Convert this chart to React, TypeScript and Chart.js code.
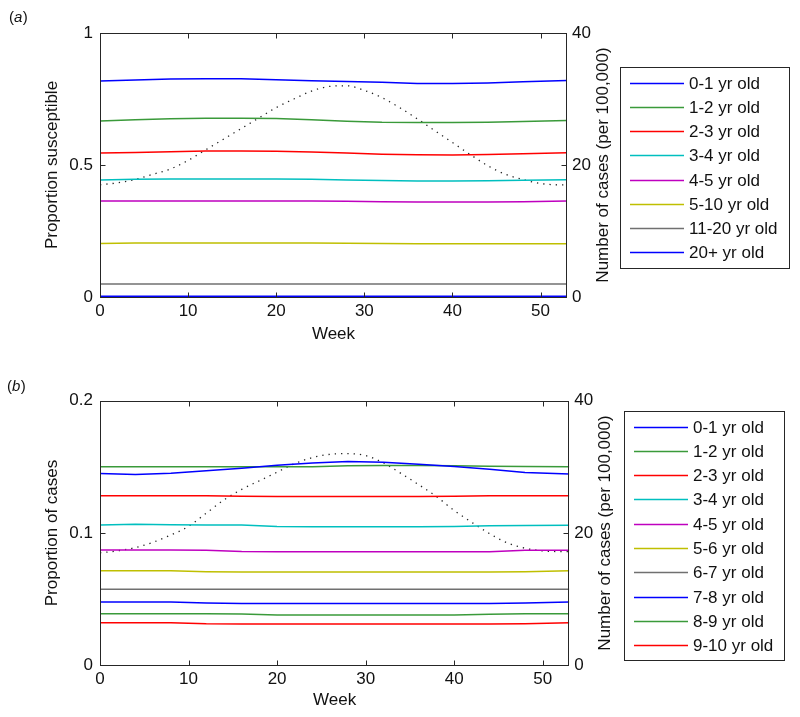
import React, { useEffect, useRef } from "react";
import { Chart, registerables } from "chart.js";

Chart.register(...registerables);

const FONT = '"Liberation Sans", Arial, Helvetica, sans-serif';
const FS = 17;

// ---------- shared axes ----------
const weeks = [0, 4, 8, 12, 16, 20, 24, 28, 32, 36, 40, 44, 48, 53];
const caseWeeks = [0, 2, 4, 6, 8, 10, 12, 14, 16, 18, 20, 22, 24, 26, 28, 30, 32, 34, 36, 38, 40, 42, 44, 46, 48, 50, 52, 53];
const xTicks = [0, 10, 20, 30, 40, 50];
const rightTicks = [0, 20, 40];

// ---------- panel (a): proportion susceptible ----------
const labelsA = ["0-1 yr old", "1-2 yr old", "2-3 yr old", "3-4 yr old", "4-5 yr old", "5-10 yr old", "11-20 yr old", "20+ yr old"];
const colorsA = ["#0000ff", "#3a9a3a", "#ff0000", "#00bfbf", "#bf00bf", "#bfbf00", "#707070", "#0000ff"];
const susA01 = [0.818, 0.822, 0.826, 0.827, 0.827, 0.823, 0.819, 0.816, 0.813, 0.809, 0.809, 0.811, 0.815, 0.82];
const susA12 = [0.667, 0.671, 0.675, 0.677, 0.677, 0.676, 0.671, 0.666, 0.662, 0.661, 0.661, 0.662, 0.665, 0.669];
const susA23 = [0.545, 0.547, 0.55, 0.553, 0.553, 0.552, 0.549, 0.545, 0.541, 0.539, 0.538, 0.54, 0.543, 0.546];
const susA34 = [0.443, 0.446, 0.447, 0.447, 0.447, 0.447, 0.446, 0.443, 0.441, 0.439, 0.439, 0.44, 0.442, 0.444];
const susA45 = [0.364, 0.364, 0.364, 0.364, 0.364, 0.364, 0.364, 0.363, 0.361, 0.36, 0.36, 0.36, 0.361, 0.364];
const susA510 = [0.203, 0.205, 0.205, 0.205, 0.205, 0.205, 0.205, 0.204, 0.203, 0.202, 0.202, 0.202, 0.202, 0.202];
const susA1120 = [0.049, 0.049, 0.049, 0.049, 0.049, 0.049, 0.049, 0.049, 0.049, 0.049, 0.049, 0.049, 0.049, 0.049];
const susA20p = [0.003, 0.003, 0.003, 0.003, 0.003, 0.003, 0.003, 0.003, 0.003, 0.003, 0.003, 0.003, 0.003, 0.003];
const casesA = [17.0, 17.3, 17.8, 18.6, 19.4, 20.7, 22.3, 23.9, 25.5, 27.1, 28.7, 30.0, 31.2, 31.9, 32.0, 31.3, 30.2, 28.7, 27.0, 25.2, 23.4, 21.6, 19.9, 18.6, 17.8, 17.2, 17.0, 17.0];
const leftTicksA = [0, 0.5, 1];

// ---------- panel (b): proportion of cases ----------
const labelsB = ["0-1 yr old", "1-2 yr old", "2-3 yr old", "3-4 yr old", "4-5 yr old", "5-6 yr old", "6-7 yr old", "7-8 yr old", "8-9 yr old", "9-10 yr old"];
const colorsB = ["#0000ff", "#3a9a3a", "#ff0000", "#00bfbf", "#bf00bf", "#bfbf00", "#707070", "#0000ff", "#3a9a3a", "#ff0000"];
const casB01 = [0.145, 0.1442, 0.1452, 0.147, 0.149, 0.1512, 0.153, 0.154, 0.1535, 0.152, 0.1502, 0.1482, 0.1458, 0.1446];
const casB12 = [0.15, 0.15, 0.15, 0.15, 0.15, 0.15, 0.15, 0.1508, 0.151, 0.151, 0.1508, 0.1505, 0.1502, 0.15];
const casB23 = [0.1282, 0.1282, 0.1282, 0.1282, 0.1277, 0.1275, 0.1275, 0.1275, 0.1275, 0.1275, 0.1278, 0.1281, 0.1282, 0.1282];
const casB34 = [0.106, 0.1066, 0.1062, 0.106, 0.106, 0.1049, 0.1048, 0.1048, 0.1048, 0.1048, 0.105, 0.1055, 0.1056, 0.1058];
const casB45 = [0.0871, 0.0871, 0.0871, 0.0869, 0.086, 0.0859, 0.0859, 0.0859, 0.0859, 0.0859, 0.0859, 0.0859, 0.087, 0.087];
const casB56 = [0.0715, 0.0715, 0.0715, 0.0708, 0.0705, 0.0705, 0.0705, 0.0705, 0.0705, 0.0705, 0.0705, 0.0705, 0.0708, 0.0715];
const casB67 = [0.0574, 0.0574, 0.0574, 0.0574, 0.0574, 0.0574, 0.0574, 0.0574, 0.0574, 0.0574, 0.0574, 0.0574, 0.0574, 0.0574];
const casB78 = [0.0478, 0.0478, 0.0478, 0.0471, 0.0468, 0.0468, 0.0468, 0.0468, 0.0468, 0.0468, 0.0468, 0.0468, 0.0471, 0.0478];
const casB89 = [0.039, 0.039, 0.039, 0.039, 0.0388, 0.038, 0.038, 0.038, 0.038, 0.038, 0.038, 0.0386, 0.039, 0.039];
const casB910 = [0.0322, 0.0322, 0.0322, 0.0314, 0.0312, 0.0312, 0.0312, 0.0312, 0.0312, 0.0312, 0.0312, 0.0312, 0.0315, 0.0322];
const casesB = [17.0, 17.3, 17.8, 18.6, 19.7, 21.0, 23.0, 25.0, 26.6, 27.9, 29.2, 30.5, 31.4, 31.9, 32.0, 31.7, 30.6, 29.0, 27.3, 25.5, 23.4, 21.6, 19.9, 18.5, 17.7, 17.3, 17.2, 17.2];
const leftTicksB = [0, 0.1, 0.2];

// ---------- decoration plugin (box, inward ticks, legend, right title, panel label) ----------
function edges(ca: any) {
  return {
    L: Math.round(ca.left) + 0.5,
    R: Math.round(ca.right) - 0.5,
    T: Math.round(ca.top) + 0.5,
    B: Math.round(ca.bottom) + 0.5,
  };
}

const decorPlugin = {
  id: "decor",
  beforeDatasetsDraw(chart: any) {
    const { ctx, chartArea: ca } = chart;
    const { L, R, T, B } = edges(ca);
    ctx.save();
    ctx.strokeStyle = "#262626";
    ctx.lineWidth = 1;
    ctx.strokeRect(L, T, R - L, B - T);
    ctx.restore();
  },
  afterDraw(chart: any, _args: any, o: any) {
    const { ctx, chartArea: ca, scales } = chart;
    const { L, R, T, B } = edges(ca);
    ctx.save();
    ctx.strokeStyle = "#262626";
    ctx.lineWidth = 1;
    ctx.beginPath();
    ctx.moveTo(L, T); ctx.lineTo(R, T); ctx.lineTo(R, B);
    ctx.moveTo(L, T); ctx.lineTo(L, B);
    for (const v of o.xTicks) {
      const px = Math.round(scales.x.getPixelForValue(v)) + 0.5;
      ctx.moveTo(px, T); ctx.lineTo(px, T + 5);
      ctx.moveTo(px, B); ctx.lineTo(px, B - 5);
    }
    for (const v of o.leftTicks) {
      const py = Math.round(scales.y.getPixelForValue(v)) + 0.5;
      ctx.moveTo(L, py); ctx.lineTo(L + 5, py);
    }
    for (const v of o.rightTicks) {
      const py = Math.round(scales.y1.getPixelForValue(v)) + 0.5;
      ctx.moveTo(R, py); ctx.lineTo(R - 5, py);
    }
    ctx.stroke();

    // right axis title, reading bottom to top
    ctx.fillStyle = "#111";
    ctx.font = `${FS}px ${FONT}`;
    ctx.save();
    ctx.translate(o.rightTitleX, (ca.top + ca.bottom) / 2);
    ctx.rotate(-Math.PI / 2);
    ctx.textAlign = "center";
    ctx.textBaseline = "middle";
    ctx.fillText(o.rightTitle, 0, 0);
    ctx.restore();

    // legend
    const lg = o.legend;
    ctx.fillStyle = "#ffffff";
    ctx.fillRect(lg.x, lg.y, lg.w, lg.h);
    ctx.strokeStyle = "#262626";
    ctx.strokeRect(lg.x + 0.5, lg.y + 0.5, lg.w, lg.h);
    ctx.textAlign = "left";
    ctx.textBaseline = "middle";
    ctx.font = `${FS}px ${FONT}`;
    const ds = chart.data.datasets.filter((d: any) => d.yAxisID === "y");
    ds.forEach((d: any, i: number) => {
      const yy = Math.round(lg.firstY + i * lg.step) + 0.5;
      ctx.strokeStyle = d.borderColor;
      ctx.lineWidth = 1.5;
      ctx.beginPath();
      ctx.moveTo(lg.lineX0, yy);
      ctx.lineTo(lg.lineX1, yy);
      ctx.stroke();
      ctx.fillStyle = "#111";
      ctx.fillText(d.label, lg.textX, yy + 1);
    });

    // panel label "(a)" / "(b)"
    ctx.fillStyle = "#111";
    ctx.textBaseline = "middle";
    ctx.font = `15px ${FONT}`;
    let x = o.labelX;
    ctx.fillText("(", x, o.labelY);
    x += ctx.measureText("(").width;
    ctx.font = `italic 15px ${FONT}`;
    ctx.fillText(o.panel, x, o.labelY);
    x += ctx.measureText(o.panel).width + 0.5;
    ctx.font = `15px ${FONT}`;
    ctx.fillText(")", x, o.labelY);
    ctx.restore();
  },
};

type PanelCfg = {
  canvasH: number;
  padTop: number;
  xHeight: number;
  y1Width: number;
  yMax: number;
  leftTicks: number[];
  yTitle: string;
  labels: string[];
  colors: string[];
  series: number[][];
  cases: number[];
  xTickPad: number;
  xTitlePad: number;
  decor: any;
};

function buildConfig(p: PanelCfg): any {
  const datasets: any[] = p.series.map((arr, i) => ({
    label: p.labels[i],
    data: weeks.map((w, j) => ({ x: w, y: arr[j] })),
    borderColor: p.colors[i],
    borderWidth: 1.5,
    pointRadius: 0,
    tension: 0,
    yAxisID: "y",
  }));
  datasets.push({
    label: "cases",
    data: caseWeeks.map((w, j) => ({ x: w, y: p.cases[j] })),
    borderColor: "#222",
    borderWidth: 1.3,
    borderDash: [1.3, 5],
    pointRadius: 0,
    cubicInterpolationMode: "monotone",
    yAxisID: "y1",
  });
  const font = { family: FONT, size: FS };
  return {
    type: "line",
    data: { datasets },
    plugins: [decorPlugin],
    options: {
      animation: false,
      responsive: false,
      maintainAspectRatio: false,
      devicePixelRatio: 1,
      layout: { padding: { top: p.padTop, left: 0, right: 0, bottom: 0 } },
      plugins: {
        legend: { display: false },
        tooltip: { enabled: false },
        decor: p.decor,
      },
      scales: {
        x: {
          type: "linear",
          min: 0,
          max: 53,
          afterBuildTicks: (s: any) => { s.ticks = xTicks.map((v) => ({ value: v })); },
          afterFit: (s: any) => { s.height = p.xHeight; },
          grid: { display: false, drawTicks: false },
          border: { display: false },
          ticks: { padding: p.xTickPad, color: "#111", font, maxRotation: 0, callback: (v: any) => String(v) },
          title: { display: true, text: "Week", color: "#111", font, padding: { top: 0, bottom: p.xTitlePad } },
        },
        y: {
          type: "linear",
          position: "left",
          min: 0,
          max: p.yMax,
          afterBuildTicks: (s: any) => { s.ticks = p.leftTicks.map((v) => ({ value: v })); },
          afterFit: (s: any) => { s.width = 100; },
          grid: { display: false, drawTicks: false },
          border: { display: false },
          ticks: { padding: 7, color: "#111", font, callback: (v: any) => String(v) },
          title: { display: true, text: p.yTitle, color: "#111", font, padding: { top: 41.8, bottom: 0 } },
        },
        y1: {
          type: "linear",
          position: "right",
          min: 0,
          max: 40,
          afterBuildTicks: (s: any) => { s.ticks = rightTicks.map((v) => ({ value: v })); },
          afterFit: (s: any) => { s.width = p.y1Width; },
          grid: { display: false, drawTicks: false },
          border: { display: false },
          ticks: { padding: 5, color: "#111", font, callback: (v: any) => String(v) },
        },
      },
    },
  };
}

const panelA: PanelCfg = {
  canvasH: 358,
  padTop: 33,
  xHeight: 61,
  y1Width: 233,
  yMax: 1,
  leftTicks: leftTicksA,
  yTitle: "Proportion susceptible",
  labels: labelsA,
  colors: colorsA,
  series: [susA01, susA12, susA23, susA34, susA45, susA510, susA1120, susA20p],
  cases: casesA,
  xTickPad: 4.5,
  xTitlePad: 13.8,
  decor: {
    xTicks, leftTicks: leftTicksA, rightTicks,
    rightTitle: "Number of cases (per 100,000)", rightTitleX: 603,
    panel: "a", labelX: 9, labelY: 18,
    legend: { x: 620, y: 67, w: 169, h: 201, firstY: 83, step: 24.14, lineX0: 630, lineX1: 684, textX: 689 },
  },
};

const panelB: PanelCfg = {
  canvasH: 359,
  padTop: 42.7,
  xHeight: 51.7,
  y1Width: 230.7,
  yMax: 0.2,
  leftTicks: leftTicksB,
  yTitle: "Proportion of cases",
  labels: labelsB,
  colors: colorsB,
  series: [casB01, casB12, casB23, casB34, casB45, casB56, casB67, casB78, casB89, casB910],
  cases: casesB,
  xTickPad: 3.5,
  xTitlePad: 6.8,
  decor: {
    xTicks, leftTicks: leftTicksB, rightTicks,
    rightTitle: "Number of cases (per 100,000)", rightTitleX: 605.5,
    panel: "b", labelX: 7, labelY: 28.5,
    legend: { x: 624, y: 53, w: 160, h: 249, firstY: 68.7, step: 24.26, lineX0: 634, lineX1: 688, textX: 693 },
  },
};

function Panel({ cfg, top }: { cfg: PanelCfg; top: number }) {
  const ref = useRef<HTMLCanvasElement>(null);
  useEffect(() => {
    const chart = new Chart(ref.current as HTMLCanvasElement, buildConfig(cfg));
    return () => chart.destroy();
  }, [cfg]);
  return (
    <canvas
      ref={ref}
      width={800}
      height={cfg.canvasH}
      style={{ position: "absolute", left: 0, top, width: 800, height: cfg.canvasH, display: "block" }}
    />
  );
}

export default function App() {
  return (
    <div style={{ position: "absolute", left: 0, top: 0, width: 800, height: 717, background: "#ffffff" }}>
      <Panel cfg={panelA} top={0} />
      <Panel cfg={panelB} top={358} />
    </div>
  );
}
